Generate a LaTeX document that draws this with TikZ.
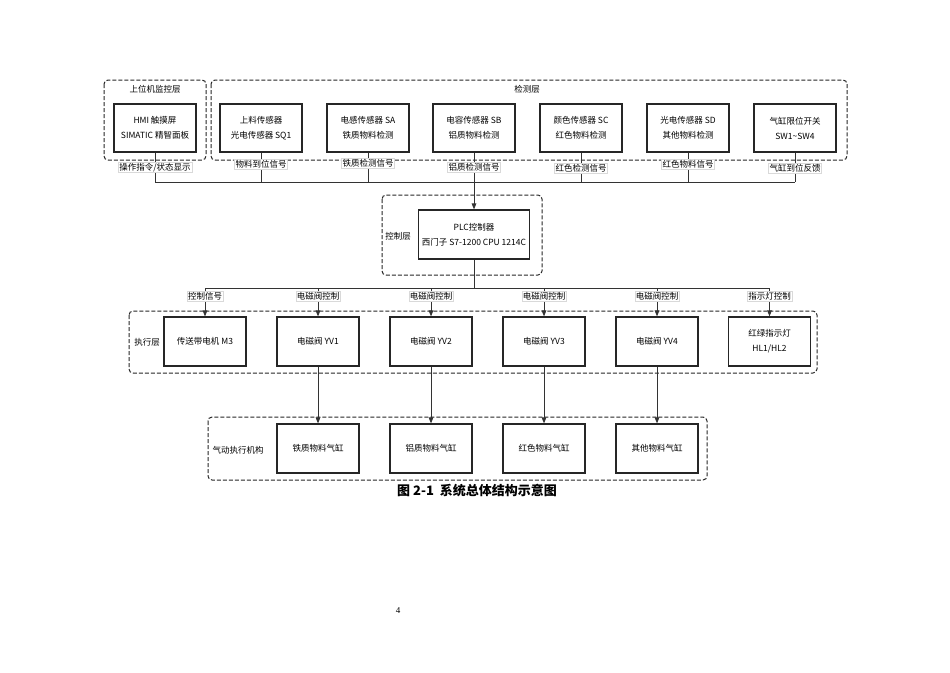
\documentclass[tikz,border=0pt]{standalone}
\usepackage{fontspec}
\setmainfont{Noto Sans CJK SC}
\newfontfamily\numfont{Liberation Serif}
\usetikzlibrary{arrows.meta, calc}

\tikzset{
  unit/.style={draw=black!85, line width=1.1pt, minimum width=82pt, minimum height=48pt, align=center, inner sep=1pt, font=\fontsize{8.5}{15}\selectfont},
  layer/.style={draw=black!85, line width=1pt, dash pattern=on 4pt off 2pt, rounded corners=4pt},
  sig/.style={fill=white, draw=black!15, line width=0.3pt, inner sep=1pt, font=\fontsize{8.5}{10}\selectfont},
  tag/.style={font=\fontsize{8.5}{10}\selectfont},
  link/.style={draw=black!80, line width=0.9pt},
  feed/.style={link, -{Triangle[length=6pt,width=4.5pt]}}
}

\begin{document}
\begin{tikzpicture}[x=1pt, y=-1pt]
    \useasboundingbox (0,0) rectangle (950,672);

    % layers
    \draw[layer] (104,80) rectangle (206,160);
    \node[tag] (monitorTag) at (155,89) {上位机监控层};
    \draw[layer] (211,80) rectangle (847,160);
    \node[tag] (detectTag) at (527,89) {检测层};
    \draw[layer] (382,195) rectangle (542,275);
    \node[tag] (controlTag) at (398,236) {控制层};
    \draw[layer] (129,311) rectangle (817,373);
    \node[tag] (execTag) at (147,342) {执行层};
    \draw[layer] (208,417) rectangle (707,480);
    \node[tag] (airTag) at (238,450) {气动执行机构};

    % monitor and sensors
    \node[unit] (hmi) at (155,128) {HMI 触摸屏\\SIMATIC 精智面板};
    \node[unit] (sq) at (261,128) {上料传感器\\光电传感器 SQ1};
    \node[unit] (sa) at (368,128) {电感传感器 SA\\铁质物料检测};
    \node[unit] (sb) at (474,128) {电容传感器 SB\\铝质物料检测};
    \node[unit] (sc) at (581,128) {颜色传感器 SC\\红色物料检测};
    \node[unit] (sd) at (688,128) {光电传感器 SD\\其他物料检测};
    \node[unit] (sw) at (795,128) {气缸限位开关\\SW1\textasciitilde SW4};

    % controller
    \node[unit, minimum width=111pt, minimum height=49pt] (plc) at (474,234.5) {PLC控制器\\西门子 S7-1200 CPU 1214C};

    % actuators
    \node[unit, minimum height=49pt] (motor) at (205,341.5) {传送带电机 M3};
    \node[unit, minimum height=49pt] (yv1) at (318,341.5) {电磁阀 YV1};
    \node[unit, minimum height=49pt] (yv2) at (431,341.5) {电磁阀 YV2};
    \node[unit, minimum height=49pt] (yv3) at (544,341.5) {电磁阀 YV3};
    \node[unit, minimum height=49pt] (yv4) at (657,341.5) {电磁阀 YV4};
    \node[unit, minimum height=49pt] (lamp) at (769.5,341.5) {红绿指示灯\\HL1/HL2};

    % cylinders
    \node[unit, minimum height=49pt] (cyl1) at (318,448.5) {铁质物料气缸};
    \node[unit, minimum height=49pt] (cyl2) at (431,448.5) {铝质物料气缸};
    \node[unit, minimum height=49pt] (cyl3) at (544,448.5) {红色物料气缸};
    \node[unit, minimum height=49pt] (cyl4) at (657,448.5) {其他物料气缸};

    % upper bus
    \coordinate (busTop) at (0,182);
    \draw[link] (hmi.south |- busTop) -- (sw.south |- busTop);
    \draw[link] (hmi.south) -- (hmi.south |- busTop) node[sig, pos=0.5] {操作指令/状态显示};
    \draw[link] (sq.south) -- (sq.south |- busTop) node[sig, pos=0.4] {物料到位信号};
    \draw[link] (sa.south) -- (sa.south |- busTop) node[sig, pos=0.37] {铁质检测信号};
    \draw[link] (sb.south) -- (sb.south |- busTop) node[sig, pos=0.5] {铝质检测信号};
    \draw[link] (sc.south) -- (sc.south |- busTop) node[sig, pos=0.53] {红色检测信号};
    \draw[link] (sd.south) -- (sd.south |- busTop) node[sig, pos=0.4] {红色物料信号};
    \draw[link] (sw.south) -- (sw.south |- busTop) node[sig, pos=0.53] {气缸到位反馈};
    \draw[feed] (sb.south |- busTop) -- (plc.north);

    % lower bus
    \coordinate (busLow) at (0,288);
    \draw[link] (plc.south) -- (plc.south |- busLow);
    \draw[link] (motor.north |- busLow) -- (lamp.north |- busLow);
    \draw[feed] (motor.north |- busLow) -- (motor.north) node[sig, pos=0.28] {控制信号};
    \draw[feed] (yv1.north |- busLow) -- (yv1.north) node[sig, pos=0.28] {电磁阀控制};
    \draw[feed] (yv2.north |- busLow) -- (yv2.north) node[sig, pos=0.28] {电磁阀控制};
    \draw[feed] (yv3.north |- busLow) -- (yv3.north) node[sig, pos=0.28] {电磁阀控制};
    \draw[feed] (yv4.north |- busLow) -- (yv4.north) node[sig, pos=0.28] {电磁阀控制};
    \draw[feed] (lamp.north |- busLow) -- (lamp.north) node[sig, pos=0.28] {指示灯控制};

    % valves to cylinders
    \draw[feed] (yv1.south) -- (cyl1.north);
    \draw[feed] (yv2.south) -- (cyl2.north);
    \draw[feed] (yv3.south) -- (cyl3.north);
    \draw[feed] (yv4.south) -- (cyl4.north);

    % caption and page number
    \node[font=\bfseries\fontsize{13}{15}\selectfont] (caption) at (477,491) {图 2-1\ \ 系统总体结构示意图};
    \node[font=\numfont\fontsize{9}{10}\selectfont] (pageNo) at (398,611) {4};
\end{tikzpicture}
\end{document}
